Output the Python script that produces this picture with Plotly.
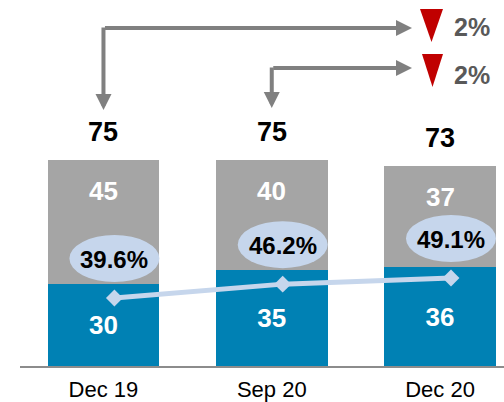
import plotly.graph_objects as go

# ---- data ----
categories = ["Dec 19", "Sep 20", "Dec 20"]
lower_values = [30, 35, 36]
upper_values = [45, 40, 37]
totals = [75, 75, 73]
share_pct = [39.6, 46.2, 49.1]
change_labels = ["2%", "2%"]

# ---- style / layout constants ----
W, H = 504, 402
L, R, T, B = 20, 504, 0, 366          # plot area in pixels
X_RANGE = [-0.496, 2.38]
Y_RANGE = [0, 133.3]
Y2_RANGE = [7.3, 181.2]
LINE_SHIFT = 0.065
BLUE = "#0081B4"
GREY = "#A5A5A5"
LIGHT = "#C6D6EC"
ARROW = "#808080"
RED = "#C00000"
FONT = "Arial, Liberation Sans, sans-serif"

def px_x(p):
    return (p - L) / (R - L)

def px_y(p):
    return (B - p) / (B - T)

def px_to_xdata(p):
    return X_RANGE[0] + (p - L) / (R - L) * (X_RANGE[1] - X_RANGE[0])

idx = list(range(len(categories)))

fig = go.Figure()
fig.add_trace(go.Bar(
    x=idx, y=lower_values, marker_color=BLUE, marker_line_width=0,
    text=[str(v) for v in lower_values], textposition="inside",
    insidetextanchor="middle", constraintext="none",
    textfont=dict(color="white", size=26, family=FONT, weight="bold"),
    hoverinfo="skip"))
fig.add_trace(go.Bar(
    x=idx, y=upper_values, marker_color=GREY, marker_line_width=0,
    hoverinfo="skip"))
fig.add_trace(go.Scatter(
    x=idx, y=share_pct, xaxis="x2", yaxis="y2", mode="lines+markers",
    line=dict(color=LIGHT, width=5),
    marker=dict(symbol="diamond", size=13, color=LIGHT),
    hoverinfo="skip"))

annotations = []
shapes = []
for i in idx:
    # totals above bars
    annotations.append(dict(x=i, y=totals[i], xref="x", yref="y",
        text=str(totals[i]), showarrow=False, yshift=28,
        font=dict(size=27, color="black", family=FONT, weight="bold")))
    # upper segment labels
    annotations.append(dict(x=i, y=lower_values[i] + upper_values[i], xref="x", yref="y",
        text=str(upper_values[i]), showarrow=False, yshift=-31,
        font=dict(size=26, color="white", family=FONT, weight="bold")))
    # ellipse labels
    shapes.append(dict(type="circle", xref="x2", yref="y2",
        xsizemode="pixel", ysizemode="pixel", xanchor=i, yanchor=share_pct[i],
        x0=-45, x1=45, y0=16, y1=63, fillcolor=LIGHT, line_width=0, layer="above"))
    annotations.append(dict(x=i, y=share_pct[i], xref="x2", yref="y2",
        text=f"{share_pct[i]:.1f}%", showarrow=False, yshift=39,
        font=dict(size=24, color="black", family=FONT, weight="bold")))

# elbow arrows
arrow_specs = [  # (bar index, horizontal y px, tip y px)
    (0, 28, 110),
    (1, 68, 108),
]
for (i, hy, ty) in arrow_specs:
    annotations.append(dict(x=i, xref="x", y=px_y(ty), yref="paper",
        ax=0, ay=-(ty - hy) - 2, text="", showarrow=True, arrowhead=2,
        arrowwidth=4, arrowsize=0.8, arrowcolor=ARROW, standoff=0))
    annotations.append(dict(x=px_to_xdata(412), xref="x", y=px_y(hy), yref="paper",
        ax=i, axref="x", ay=0, text="", showarrow=True, arrowhead=2,
        arrowwidth=4, arrowsize=0.8, arrowcolor=ARROW, standoff=0))

# red triangles and change labels
tri_specs = [(420, 443, 9, 42, 27), (422, 443, 54, 87, 75)]
for k, (x0, x1, y0, y1, ly) in enumerate(tri_specs):
    path = (f"M {px_x(x0)},{px_y(y0)} L {px_x(x1)},{px_y(y0)} "
            f"L {px_x((x0 + x1) / 2)},{px_y(y1)} Z")
    shapes.append(dict(type="path", xref="paper", yref="paper", path=path,
                       fillcolor=RED, line_width=0))
    annotations.append(dict(x=px_x(452), y=px_y(ly), xref="paper", yref="paper",
        text=change_labels[k], showarrow=False, xanchor="left", yanchor="middle",
        font=dict(size=25, color="#595959", family=FONT, weight="bold")))

fig.update_layout(
    width=W, height=H, barmode="stack", bargap=0.335, showlegend=False,
    margin=dict(l=L, r=W - R, t=T, b=H - B, pad=0, autoexpand=False),
    paper_bgcolor="white", plot_bgcolor="white",
    xaxis=dict(range=X_RANGE, tickmode="array", tickvals=idx, ticktext=categories,
               showgrid=False, zeroline=False, showline=True, linecolor="#8C8C8C",
               linewidth=2, ticks="", ticklabelstandoff=3, automargin=False,
               tickfont=dict(size=22, color="black", family=FONT),
               fixedrange=True),
    xaxis2=dict(range=[X_RANGE[0] - LINE_SHIFT, X_RANGE[1] - LINE_SHIFT],
                overlaying="x", visible=False, fixedrange=True),
    yaxis=dict(range=Y_RANGE, visible=False, showgrid=False, fixedrange=True),
    yaxis2=dict(range=Y2_RANGE, overlaying="y", visible=False, fixedrange=True),
    annotations=annotations, shapes=shapes,
)

fig.write_html("out.html", config={"displayModeBar": False},
               post_script="document.body.style.margin='0';document.body.style.overflow='hidden';")
